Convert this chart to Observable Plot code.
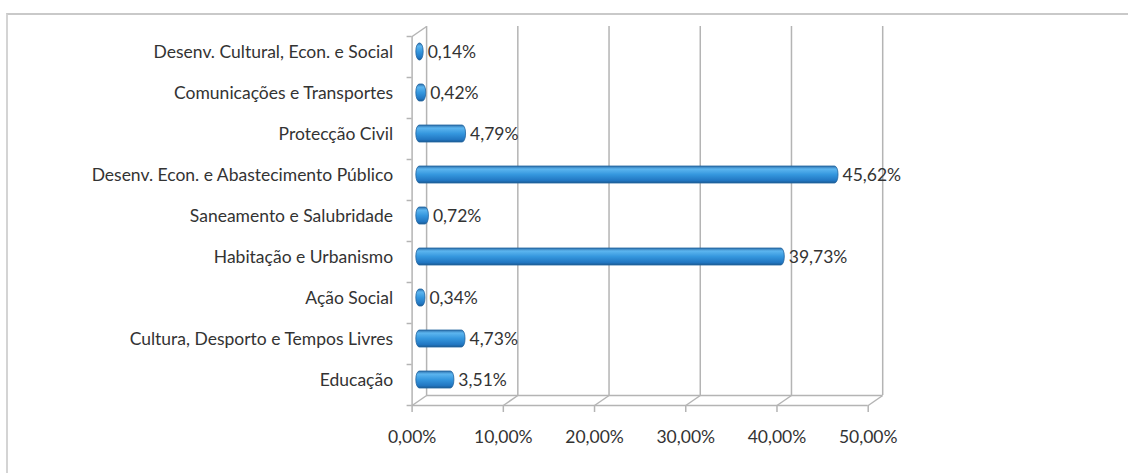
<!DOCTYPE html>
<html>
<head>
<meta charset="utf-8">
<script src="https://cdn.jsdelivr.net/npm/d3@7"></script>
<script src="https://cdn.jsdelivr.net/npm/@observablehq/plot@0.6"></script>
<style>
  html, body { margin: 0; padding: 0; background: #fff; }
  #wrap { position: relative; width: 1128px; height: 473px; overflow: hidden; }
  #border { position: absolute; left: 6px; top: 13px; width: 1130px; height: 470px;
            border-top: 2px solid #c9c9c9; border-left: 2px solid #d4d4d4; box-sizing: border-box; }
  #chart { position: absolute; left: 0; top: 0; }
</style>
</head>
<body>
<div id="wrap"><div id="border"></div><div id="chart"></div></div>
<script>
// Categories from top to bottom as shown
const categories = [
  "Desenv. Cultural, Econ. e Social",
  "Comunicações e Transportes",
  "Protecção Civil",
  "Desenv. Econ. e Abastecimento Público",
  "Saneamento e Salubridade",
  "Habitação e Urbanismo",
  "Ação Social",
  "Cultura, Desporto e Tempos Livres",
  "Educação"
];
const values = [0.14, 0.42, 4.79, 45.62, 0.72, 39.73, 0.34, 4.73, 3.51];
const xTicks = [0, 10, 20, 30, 40, 50];

const n = categories.length;
const data = categories.map((c, k) => ({ cat: c, value: values[k], idx: n - 1 - k }));
const pct = v => v.toFixed(2).replace(".", ",") + "%";

const W = 1128, H = 473;
const mL = 411.6, mR = 260.3, mT = 36, mB = 68;
const DX = 14.5, DY = -10; // 3D depth offset in px
const pxPerX = (W - mL - mR) / 50;
const pxPerY = (H - mT - mB) / n;
const depthX = DX / pxPerX, depthY = -DY / pxPerY;
const grid = "#b4b4b4";
const ink = "#333333";
const fs = 17.5;
const font = "Lato, 'Open Sans', sans-serif";

const chart = Plot.plot({
  width: W, height: H,
  marginLeft: mL, marginRight: mR, marginTop: mT, marginBottom: mB,
  x: { domain: [0, 50], label: null },
  y: { domain: [0, n], axis: null, label: null },
  style: { fontFamily: font, fontSize: fs + "px", color: ink, background: "transparent" },
  marks: [
    // back wall gridlines
    Plot.ruleX(xTicks, { x: d => d, y1: 0, y2: n, dx: DX, dy: DY, stroke: grid, strokeWidth: 1.5 }),
    // floor diagonals
    Plot.link(xTicks, { x1: d => d, y1: 0, x2: d => d + depthX, y2: depthY, stroke: grid, strokeWidth: 1.5 }),
    // top-left diagonal
    Plot.link([0], { x1: 0, y1: n, x2: depthX, y2: n + depthY, stroke: grid, strokeWidth: 1.5 }),
    // back floor line
    Plot.ruleY([0], { x1: 0, x2: 50, dx: DX, dy: DY, stroke: grid, strokeWidth: 1.5 }),
    // front floor line
    Plot.ruleY([0], { x1: 0, x2: 50, stroke: grid, strokeWidth: 1.5 }),
    // front left axis
    Plot.ruleX([0], { y1: 0, y2: n, stroke: grid, strokeWidth: 1.5 }),
    // y ticks
    Plot.axisY(d3.range(n + 1), { tickSize: 5, tickFormat: () => "", stroke: grid, strokeWidth: 1.5, label: null }),
    // x axis ticks & labels
    Plot.axisX(xTicks, { tickSize: 7, tickPadding: 18, tickFormat: pct, stroke: grid, strokeWidth: 1.5, fill: ink, fontSize: fs, label: null }),
    // bars
    Plot.rectX(data, {
      x1: 0, x2: "value", y1: d => d.idx, y2: d => d.idx + 1,
      insetTop: 12, insetBottom: 12, insetLeft: -3, insetRight: -3,
      dx: DX / 2, dy: DY / 2, rx: 3.5, ry: 8,
      fill: "url(#barGrad)", stroke: "#22649f", strokeWidth: 0.8
    }),
    // value labels
    Plot.text(data, {
      x: "value", y: d => d.idx + 0.5, text: d => pct(d.value),
      textAnchor: "start", dx: DX / 2 + 7, dy: DY / 2, fill: ink, fontSize: fs
    }),
    // category labels
    Plot.text(data, {
      x: 0, y: d => d.idx + 0.5, text: "cat",
      textAnchor: "end", dx: -19, dy: DY / 2, fill: ink, fontSize: fs
    })
  ]
});

const svg = d3.select(chart);
const defs = svg.insert("defs", ":first-child");
const g = defs.append("linearGradient").attr("id", "barGrad")
  .attr("x1", 0).attr("y1", 0).attr("x2", 0).attr("y2", 1);
[[0, "#2c6fab"], [0.18, "#5cb5ef"], [0.5, "#3597de"], [0.85, "#2277c2"], [1, "#1b5b94"]]
  .forEach(([o, c]) => g.append("stop").attr("offset", o).attr("stop-color", c));

document.getElementById("chart").appendChild(chart);
</script>
</body>
</html>
